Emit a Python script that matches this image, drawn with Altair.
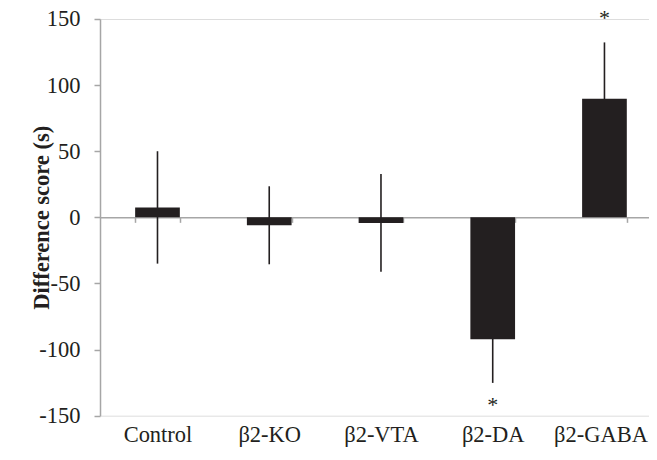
import altair as alt
import pandas as pd

groups = ["Control", "β2-KO", "β2-VTA", "β2-DA", "β2-GABA"]
means = [7.5, -6.0, -4.2, -92.2, 89.6]
sems = [42.5, 29.5, 36.9, 33.0, 42.7]
significant = [False, False, False, True, True]

df = pd.DataFrame({"group": groups, "mean": means, "sem": sems, "sig": significant})
df["lo"] = df["mean"] - df["sem"]
df["hi"] = df["mean"] + df["sem"]

FONT = "Liberation Serif"
INK = "#231f20"
AXIS_GRAY = "#a6a6a6"

W = 549
H = 396.7

xscale = alt.Scale(domain=groups, paddingInner=0.6, paddingOuter=0.2565, align=0.613)
yscale = alt.Scale(domain=[-150, 150], nice=False, zero=False)

x_axis = alt.Axis(
    title=None,
    orient="bottom",
    offset=-H / 2,
    domainColor=AXIS_GRAY,
    domainWidth=1.5,
    tickColor=AXIS_GRAY,
    tickWidth=1.5,
    tickSize=5,
    tickBand="extent",
    labelFont=FONT,
    labelFontSize=22.5,
    labelColor=INK,
    labelPadding=219.5,
    labelBaseline="alphabetic",
    labelAngle=0,
    labelOffset={"condition": {"test": "datum.value === 'β2-GABA'", "value": -4}, "value": 0},
)

y_axis = alt.Axis(
    title="Difference score (s)",
    values=[-150, -100, -50, 0, 50, 100, 150],
    labelExpr="'' + datum.value",
    domainColor=AXIS_GRAY,
    domainWidth=1.5,
    tickColor=AXIS_GRAY,
    tickWidth=1.5,
    tickSize=6,
    grid=False,
    labelFont=FONT,
    labelFontSize=22.5,
    labelColor=INK,
    labelPadding=14,
    titleFont=FONT,
    titleFontSize=22.5,
    titleFontWeight="bold",
    titleColor=INK,
    titleX=-52,
    titleY=H / 2,
    titleBaseline="alphabetic",
    titleAngle=270,
)

base = alt.Chart(df)

err = base.mark_rule(color=INK, strokeWidth=1.6).encode(
    x=alt.X("group:N", scale=xscale, axis=x_axis, sort=groups),
    y=alt.Y("lo:Q", scale=yscale, axis=y_axis),
    y2="hi:Q",
)

bars = base.mark_bar(color=INK).encode(
    x=alt.X("group:N", scale=xscale, sort=groups),
    y=alt.Y("mean:Q", scale=yscale),
    y2=alt.datum(0),
)

star_up = base.transform_filter("datum.sig && datum.mean > 0").mark_text(
    text="*", font=FONT, fontSize=22, color=INK, baseline="middle", dy=-24
).encode(
    x=alt.X("group:N", scale=xscale, sort=groups),
    y=alt.Y("hi:Q", scale=yscale),
)

star_down = base.transform_filter("datum.sig && datum.mean < 0").mark_text(
    text="*", font=FONT, fontSize=22, color=INK, baseline="middle", dy=22
).encode(
    x=alt.X("group:N", scale=xscale, sort=groups),
    y=alt.Y("lo:Q", scale=yscale),
)

chart = (
    alt.layer(err, bars, star_up, star_down)
    .properties(
        width=W,
        height=H,
        autosize=alt.AutoSizeParams(type="none"),
        padding={"left": 92, "top": 11, "right": 0, "bottom": 31.5},
    )
    .configure_view(stroke=None)
    .configure(background="white")
)

chart.save("out.html", embed_options={"renderer": "svg", "actions": False})
